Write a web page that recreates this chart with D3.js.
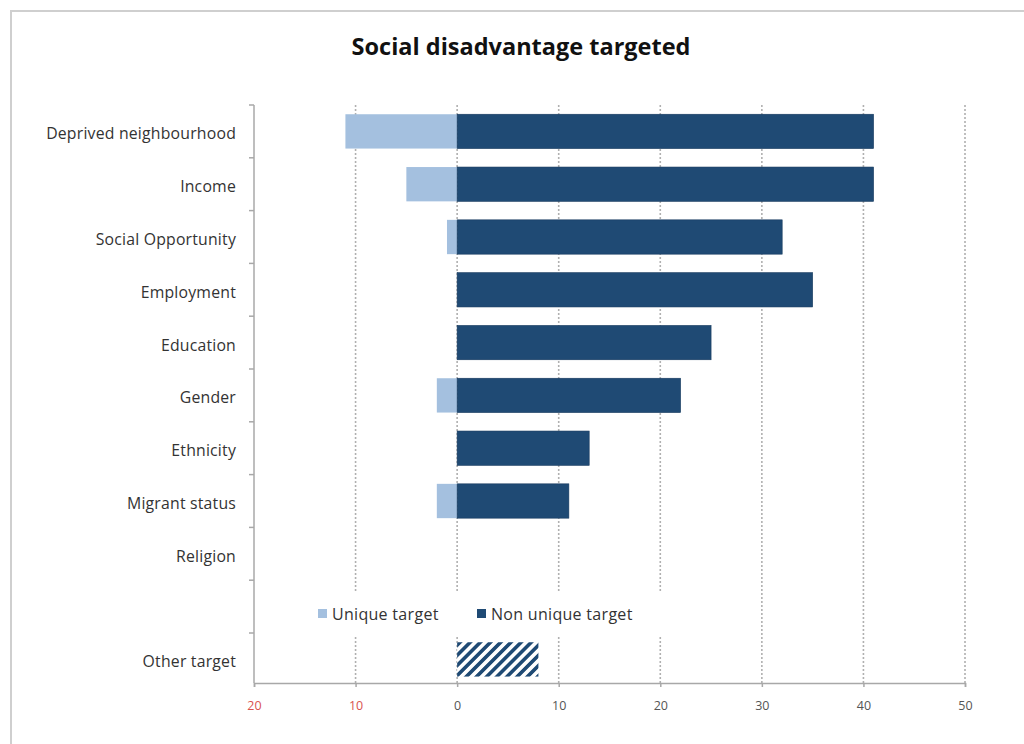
<!DOCTYPE html>
<html>
<head>
<meta charset="utf-8">
<script src="https://cdn.jsdelivr.net/npm/d3@7"></script>
<style>
  html, body { margin: 0; padding: 0; background: #fff; }
  svg { display: block; font-family: "Open Sans", Lato, sans-serif; }
</style>
</head>
<body>
<svg id="chart" width="1024" height="744"></svg>
<script>
// ---- data ----
const categories = ["Deprived neighbourhood", "Income", "Social Opportunity", "Employment",
  "Education", "Gender", "Ethnicity", "Migrant status", "Religion", "", "Other target"];
const uniqueTarget = [11, 5, 1, 0, 0, 2, 0, 2, 0, null, null];
const nonUniqueTarget = [41, 41, 32, 35, 25, 22, 13, 11, 0, null, null];
const otherTargetValue = [8];
const tickValues = [-20, -10, 0, 10, 20, 30, 40, 50];
const tickLabels = ["20", "10", "0", "10", "20", "30", "40", "50"];
const seriesNames = ["Unique target", "Non unique target"];

// ---- layout ----
const svg = d3.select("#chart");
const colLight = "#a4c0df", colDark = "#1f4a74";
const pLeft = 254, pRight = 965, pTop = 105, pBottom = 683;

// frame
svg.append("rect").attr("x", 11).attr("y", 11).attr("width", 1030).attr("height", 760)
  .attr("fill", "#fff").attr("stroke", "#cfcfcf").attr("stroke-width", 2);

const x = d3.scaleLinear().domain([-20, 50]).range([pLeft, pRight]);
const y = d3.scaleBand().domain(d3.range(categories.length)).range([pTop, pTop + 52.8 * categories.length])
  .paddingInner(0.35).paddingOuter(0.175);

// title
svg.append("text").attr("x", 521).attr("y", 55).attr("text-anchor", "middle")
  .attr("font-size", 23.5).attr("font-weight", "bold").attr("fill", "#111")
  .text("Social disadvantage targeted");

// gridlines
svg.append("g").selectAll("line").data(tickValues.slice(1)).join("line")
  .attr("x1", d => x(d)).attr("x2", d => x(d)).attr("y1", pTop).attr("y2", pBottom)
  .attr("stroke", "#b0b0b0").attr("stroke-width", 1.6).attr("stroke-dasharray", "2,2");

// pattern
const defs = svg.append("defs");
const pat = defs.append("pattern").attr("id", "hatch").attr("patternUnits", "userSpaceOnUse")
  .attr("width", 7.2).attr("height", 7.2).attr("patternTransform", "rotate(45)");
pat.append("rect").attr("width", 7.2).attr("height", 7.2).attr("fill", "#fff");
pat.append("rect").attr("width", 3.6).attr("height", 7.2).attr("fill", colDark);

const idx = d3.range(categories.length);

// unique bars (drawn to the left)
svg.append("g").selectAll("rect").data(idx.filter(i => uniqueTarget[i] > 0)).join("rect")
  .attr("x", i => x(-uniqueTarget[i])).attr("y", i => y(i))
  .attr("width", i => x(0) - x(-uniqueTarget[i])).attr("height", y.bandwidth())
  .attr("fill", colLight);

// non unique bars
svg.append("g").selectAll("rect").data(idx.filter(i => nonUniqueTarget[i] > 0)).join("rect")
  .attr("x", x(0)).attr("y", i => y(i))
  .attr("width", i => x(nonUniqueTarget[i]) - x(0)).attr("height", y.bandwidth())
  .attr("fill", colDark).attr("stroke", "#173a5e").attr("stroke-width", 0.6);

// other target hatched bar
const oi = categories.indexOf("Other target");
svg.append("g").selectAll("rect").data(otherTargetValue).join("rect")
  .attr("x", x(0)).attr("y", y(oi)).attr("width", d => x(d) - x(0)).attr("height", y.bandwidth())
  .attr("fill", "url(#hatch)");

// y axis
const yAxisG = svg.append("g");
yAxisG.append("line").attr("x1", pLeft).attr("x2", pLeft).attr("y1", pTop).attr("y2", pBottom)
  .attr("stroke", "#a8a8a8").attr("stroke-width", 1.5);
const step = y.step();
yAxisG.selectAll("line.tick").data(d3.range(categories.length)).join("line")
  .attr("class", "tick")
  .attr("x1", pLeft - 5).attr("x2", pLeft).attr("y1", i => pTop + i * step).attr("y2", i => pTop + i * step)
  .attr("stroke", "#a8a8a8").attr("stroke-width", 1.5);
yAxisG.selectAll("text").data(idx).join("text")
  .attr("x", 236).attr("y", i => y(i) + y.bandwidth() / 2 + 8)
  .attr("text-anchor", "end").attr("font-size", 15.8).attr("letter-spacing", 0.2).attr("fill", "#333")
  .text(i => categories[i]);

// x axis
const xAxis = d3.axisBottom(x).tickValues(tickValues).tickSize(4)
  .tickFormat((d, i) => tickLabels[i]);
const xg = svg.append("g").attr("transform", `translate(0,${pBottom})`).call(xAxis);
xg.select(".domain").attr("stroke", "#a8a8a8").attr("stroke-width", 1.5);
xg.selectAll(".tick line").attr("stroke", "#a8a8a8").attr("stroke-width", 1.5);
xg.selectAll(".tick text").attr("font-size", 12.5).attr("font-family", "'Open Sans', sans-serif")
  .attr("dy", "1.6em")
  .attr("fill", d => d < 0 ? "#d9534f" : "#555");

// legend
const lg = svg.append("g");
lg.append("rect").attr("x", 298).attr("y", 591).attr("width", 390).attr("height", 44).attr("fill", "#fff");
const legendItems = [{ name: seriesNames[0], color: colLight, x: 318 }, { name: seriesNames[1], color: colDark, x: 477 }];
legendItems.forEach(it => {
  lg.append("rect").attr("x", it.x).attr("y", 609).attr("width", 9).attr("height", 9).attr("fill", it.color);
  lg.append("text").attr("x", it.x + 14).attr("y", 620).attr("font-size", 16).attr("letter-spacing", 0.3)
    .attr("fill", "#333").text(it.name);
});
</script>
</body>
</html>
